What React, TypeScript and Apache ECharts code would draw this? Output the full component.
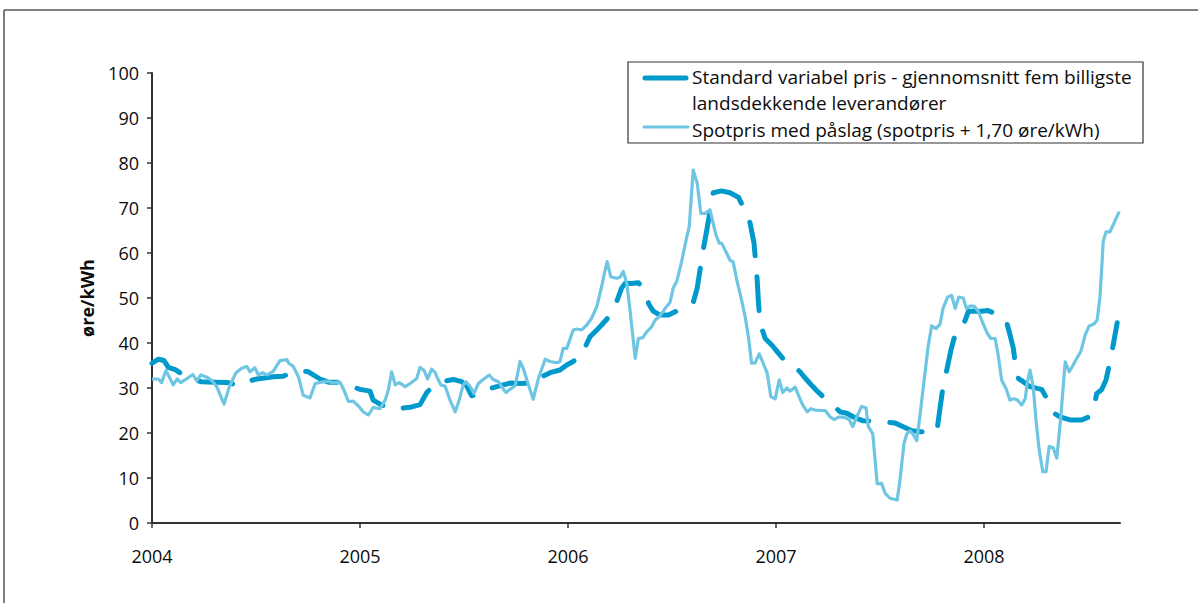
import React, { useEffect, useRef } from "react";
import * as echarts from "echarts";

// x values are weeks counted from the first week of 2004
const yearStart = 2004;
const weeksPerYear = 52;
const yearTicks = [0, 52, 104, 156, 208];
const yTicksMax = 100;

// Standard variabel pris - gjennomsnitt fem billigste landsdekkende leverandører (øre/kWh)
const standardPrice: [number, number][] = [
  [0, 35.5], [1.6, 36.4], [3, 36.1], [4.1, 34.6], [5.8, 34.1], [7.8, 32.9], [10, 32], [12.3, 31.4],
  [16, 31.3], [19, 31.2], [21.8, 30.5], [24, 31.5], [26.2, 32], [30.3, 32.5], [32.8, 32.6], [35.3, 33.6],
  [37, 33.8], [39.1, 33.6], [42, 32], [44.1, 31.3], [47, 31.3], [49.5, 30.5], [52, 29.7], [54.5, 29.3],
  [55.3, 27.3], [57, 26.4], [59.5, 25.4], [62, 25.5], [64.5, 25.7], [67, 26.3], [68.7, 29], [70.8, 30.8],
  [73, 31.5], [75.3, 31.9], [77.4, 31.4], [78.7, 30.4], [79.9, 28.3], [81.2, 28.4], [82.7, 29.2], [85, 30],
  [87.8, 30.7], [89.5, 31.1], [92, 31], [95.8, 31.1], [97.5, 32.5], [99.5, 33.4], [102, 34], [103.7, 35.1],
  [105.3, 35.9], [107.4, 37.1], [108.5, 39.5], [109.5, 41.4], [111.2, 42.9], [112.4, 44], [114.1, 45.7],
  [115.5, 47.6], [116.5, 50], [117.4, 52.2], [118.3, 53.3], [119.9, 53.2], [121.6, 53.4], [122.4, 52.5],
  [123.3, 50.7], [124.3, 48.5], [125.3, 47.1], [127, 46.2], [129.1, 46.2], [131.2, 47.1], [132.8, 47.7],
  [134.3, 48.3], [135.3, 49], [136.3, 52.2], [137.8, 60.7], [138.7, 65.1], [140.3, 73.4], [142.4, 73.8],
  [144.5, 73.4], [146.6, 72.4], [147.8, 70.2], [148.7, 69], [149.5, 66.7], [150.5, 62.2], [151.3, 54],
  [151.6, 49.2], [152, 44.4], [153.3, 41], [155, 39.5], [156.3, 38.1], [158.7, 35.5], [160.8, 34.6],
  [162, 33.6], [163, 32.5], [164.5, 31], [166.2, 29.4], [168.7, 27.3], [170.3, 26.2], [172, 24.7],
  [173.7, 24.4], [175.5, 23.5], [177.8, 22.7], [182, 22.6], [185.8, 22.2], [187.8, 21.4], [190, 20.5],
  [192.2, 20.3], [196.2, 20.3], [197, 25.5], [197.7, 29.9], [198.7, 34], [199.7, 38.3], [200.5, 41],
  [201.2, 42.3], [202.4, 42.9], [203.3, 45.1], [204.1, 47], [205.8, 47.1], [206.6, 47], [209, 47.2],
  [211.3, 46.4], [213.5, 45.1], [214.3, 42.5], [215.3, 39], [216, 34.4], [216.6, 32.1], [217.8, 31.4],
  [219.5, 30.3], [222.4, 29.7], [223.5, 28], [224.5, 26], [225.5, 24.4], [227, 23.6], [229.5, 22.9],
  [232.4, 22.9], [234, 23.5], [235.2, 24.7], [236.2, 28.8], [237.4, 29.6], [238.5, 31.8], [239.7, 36.6],
  [241.3, 44.5],
];

// Spotpris med påslag (spotpris + 1,70 øre/kWh)
const spotPrice: [number, number][] = [
  [0, 32], [1.6, 32], [2.4, 31.2], [3.5, 33.9], [5.3, 30.7], [6.3, 32], [7.2, 31.2], [8.7, 32.1],
  [10.2, 33], [11.2, 31.6], [12.2, 32.9], [13.7, 32.4], [14.9, 31.7], [16.2, 30.3], [18, 26.4], [19.3, 30.2],
  [21, 33.4], [22.4, 34.4], [23.7, 34.8], [24.5, 33.6], [25.7, 34.5], [26.6, 32.9], [27.7, 33.4], [28.8, 32.9],
  [30.3, 33.7], [32, 36.1], [33.7, 36.3], [34.2, 35.5], [35.3, 34.8], [36.6, 32.5], [37.8, 28.4], [39.5, 27.8],
  [40.8, 31], [42.4, 31.3], [43.7, 31.5], [45.3, 31.2], [47, 31.3], [47.8, 29.9], [49.1, 27], [50.3, 27.1],
  [51.6, 26], [52.8, 24.7], [54.1, 24], [55.3, 25.7], [57, 25.4], [58.3, 27.3], [59.1, 29.6], [59.9, 33.6],
  [60.8, 30.7], [61.8, 31.2], [63.3, 30.3], [64.7, 31.1], [66.2, 32.1], [67, 34.6], [68, 33.9], [68.9, 32],
  [69.9, 34.2], [70.8, 33.4], [71.2, 32.5], [72.2, 30.7], [73.3, 30.4], [74.5, 27.3], [75.8, 24.7],
  [76.8, 27.3], [77.8, 30.7], [78.5, 31.4], [79.5, 30.4], [80.5, 28.8], [81.6, 31], [82.8, 31.9],
  [84.3, 32.9], [85.3, 31.9], [86.6, 31.4], [87.7, 29.9], [88.5, 29], [89.5, 29.7], [90.8, 30.5], [92, 35.9],
  [92.8, 34.4], [94.1, 30.7], [95.3, 27.5], [96.6, 32.1], [98.3, 36.4], [99.5, 35.9], [101.2, 35.6],
  [102, 35.9], [102.8, 38.8], [103.7, 38.8], [104.3, 40.3], [105.3, 42.9], [106.2, 43.1], [107.4, 42.9],
  [108.7, 44], [109.9, 45.5], [111.2, 48.1], [112.4, 52.5], [113.1, 55.5], [113.8, 58.1], [114.7, 54.7],
  [116.2, 54.4], [117, 54.6], [117.8, 55.9], [118.7, 53.3], [119.5, 47.3], [120.3, 40.7], [120.8, 36.6],
  [121.6, 41], [122.7, 41.2], [123.7, 42.5], [124.9, 43.6], [125.8, 45.1], [127, 46], [128.3, 47.7],
  [129.5, 49], [130.3, 52.2], [131.2, 53.7], [132.4, 58.1], [133.7, 63.6], [134.3, 65.8], [135.3, 78.4],
  [136.3, 75.5], [137.2, 68.8], [138.3, 68.8], [139.5, 69.6], [140.3, 66.6], [141, 64], [141.8, 62.2],
  [142.4, 62.2], [143.7, 59.9], [144.5, 58.4], [145.3, 58], [146.2, 54], [147.2, 50.3], [148.3, 45.8],
  [149.1, 41.4], [149.9, 35.5], [150.8, 35.6], [151.8, 37.6], [152.8, 35.5], [153.8, 33.3], [154.7, 28.1],
  [155.8, 27.6], [156.8, 31.8], [157.7, 29], [158.7, 30], [159.5, 29.3], [160.8, 30.2], [161.8, 28],
  [162.7, 26.2], [163.8, 24.7], [164.7, 25.4], [165.8, 25.1], [167, 25], [168.3, 25], [169.5, 23.6],
  [170.5, 23], [171.8, 23.6], [173.3, 23.4], [174.3, 23], [175.2, 21.4], [176.2, 23.6], [177.4, 25.9],
  [178.5, 25.6], [179.1, 21.4], [180.2, 19.8], [181.3, 8.7], [182.4, 8.8], [183.3, 6.6], [184.5, 5.5],
  [186.3, 5.1], [187, 9.6], [188, 17.7], [188.7, 19.8], [189.5, 20.5], [190.2, 19.8], [191.2, 18.3],
  [192, 24], [193, 31.5], [194, 39], [194.9, 43.8], [196, 43.2], [197, 44.2], [197.8, 47.8], [198.9, 50.2],
  [199.9, 50.6], [200.8, 47.7], [201.7, 50.2], [202.8, 50], [203.6, 47.7], [204.5, 48.2], [205.5, 48.2],
  [206.6, 47], [207.7, 44.4], [208.8, 42.2], [209.7, 41], [210.8, 41], [211.6, 37], [212.4, 31.8],
  [213.5, 29.9], [214.5, 27.3], [215.3, 27.6], [216.3, 27.4], [217.4, 26.2], [218.3, 27.6], [218.8, 31],
  [219.5, 34], [220.3, 30.3], [221, 22.9], [221.8, 16.2], [222.7, 11.4], [223.5, 11.4], [224.3, 17],
  [225.3, 16.7], [226.2, 14.4], [227.2, 23.6], [228.3, 35.8], [229.3, 33.6], [230.3, 35.1], [231.2, 36.6],
  [232.2, 38.1], [233.3, 41.8], [234.3, 43.8], [235.5, 44.2], [236.3, 45.1], [237, 50.3], [237.4, 56.2],
  [237.8, 62.5], [238.5, 64.7], [239.5, 64.7], [241.8, 69.2],
];

const standardName = "Standard variabel pris - gjennomsnitt fem billigste\nlandsdekkende leverandører";
const spotName = "Spotpris med påslag (spotpris + 1,70 øre/kWh)";

const darkBlue = "#0099cc";
const lightBlue = "#6ec6e3";
const axisColor = "#333333";
const textColor = "#0d0d0d";
const font = "'Open Sans', 'Noto Sans', sans-serif";

export default function App() {
  const ref = useRef<HTMLDivElement>(null);

  useEffect(() => {
    document.body.style.margin = "0";
    if (!ref.current) return;
    const chart = echarts.init(ref.current, undefined, { renderer: "svg" });
    const [line1, line2] = standardName.split("\n");
    const legendText = {
      fontSize: 19,
      fontFamily: font,
      fill: textColor,
      verticalAlign: "middle",
    };

    chart.setOption({
      animation: false,
      backgroundColor: "#ffffff",
      textStyle: { fontFamily: font },
      grid: { left: 152, right: 78, top: 73, bottom: 80 },
      xAxis: {
        type: "value",
        min: 0,
        max: 242,
        interval: weeksPerYear,
        axisLine: { show: true, onZero: false, lineStyle: { color: axisColor, width: 2 } },
        axisTick: { show: true, length: 5, customValues: yearTicks, lineStyle: { color: axisColor, width: 1.5 } },
        axisLabel: {
          customValues: yearTicks,
          formatter: (v: number) => String(yearStart + Math.round(v / weeksPerYear)),
          margin: 24,
          fontSize: 18,
          color: textColor,
          fontFamily: font,
        },
        splitLine: { show: false },
      },
      yAxis: {
        type: "value",
        min: 0,
        max: yTicksMax,
        interval: 10,
        name: "øre/kWh",
        nameLocation: "middle",
        nameGap: 56,
        nameTextStyle: { fontSize: 18, fontWeight: "bold", color: textColor, fontFamily: font },
        axisLine: { show: true, lineStyle: { color: axisColor, width: 2 } },
        axisTick: { show: true, length: 5, lineStyle: { color: axisColor, width: 1.5 } },
        axisLabel: { margin: 13, fontSize: 18, color: textColor, fontFamily: font },
        splitLine: { show: false },
      },
      series: [
        {
          name: standardName,
          type: "line",
          data: standardPrice,
          showSymbol: false,
          smooth: false,
          lineStyle: { color: darkBlue, width: 5, type: [34, 21], cap: "round", join: "round" },
          z: 2,
        },
        {
          name: spotName,
          type: "line",
          data: spotPrice,
          showSymbol: false,
          smooth: false,
          lineStyle: { color: lightBlue, width: 3.2, join: "round" },
          z: 3,
        },
      ],
      graphic: [
        // page frame
        { type: "line", shape: { x1: 4, y1: 10, x2: 1198, y2: 10 }, style: { stroke: "#555555", lineWidth: 1.5 } },
        { type: "line", shape: { x1: 4, y1: 10, x2: 4, y2: 603 }, style: { stroke: "#555555", lineWidth: 1.5 } },
        // legend box
        {
          type: "rect",
          shape: { x: 628, y: 62, width: 515, height: 81 },
          style: { fill: "#ffffff", stroke: "#333333", lineWidth: 1.2 },
          z: 10,
        },
        {
          type: "line",
          shape: { x1: 645, y1: 78, x2: 686, y2: 78 },
          style: { stroke: darkBlue, lineWidth: 5, lineCap: "round" },
          z: 11,
        },
        { type: "text", x: 692, y: 77, style: { ...legendText, text: line1 }, z: 11 },
        { type: "text", x: 692, y: 103, style: { ...legendText, text: line2 }, z: 11 },
        {
          type: "line",
          shape: { x1: 644, y1: 127, x2: 688, y2: 127 },
          style: { stroke: lightBlue, lineWidth: 3, lineCap: "round" },
          z: 11,
        },
        { type: "text", x: 692, y: 129.5, style: { ...legendText, text: spotName }, z: 11 },
      ],
    });

    return () => chart.dispose();
  }, []);

  return <div ref={ref} style={{ width: 1198, height: 603 }} />;
}
